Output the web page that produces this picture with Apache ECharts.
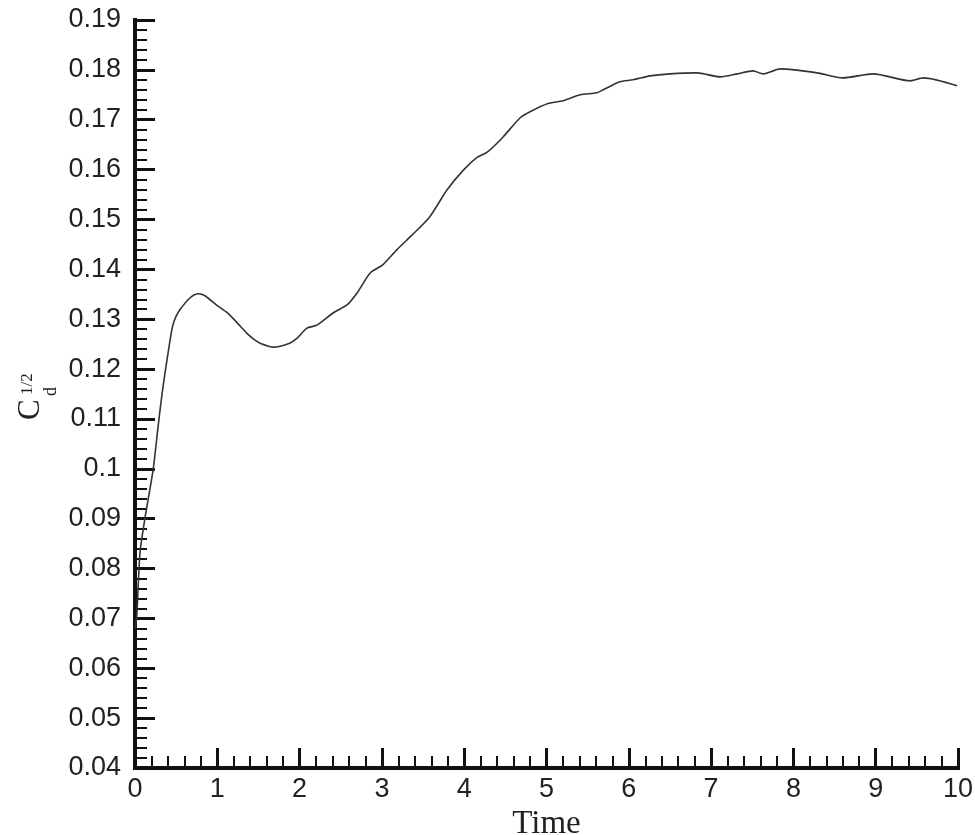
<!DOCTYPE html>
<html>
<head>
<meta charset="utf-8">
<title>Cd^(1/2) vs Time</title>
<script src="https://cdn.jsdelivr.net/npm/echarts@6/dist/echarts.min.js"></script>
<style>
  html, body { margin: 0; padding: 0; background: #fff; }
  #main { width: 975px; height: 835px; }
</style>
</head>
<body>
<div id="main"></div>
<script>
// values
var timeVals = [0.00, 0.02, 0.06, 0.12, 0.22, 0.28, 0.33, 0.37, 0.43, 0.46,
  0.50, 0.55, 0.67, 0.77, 0.85, 1.00, 1.12, 1.28, 1.37, 1.45, 1.52, 1.68,
  1.88, 1.97, 2.09, 2.21, 2.41, 2.58, 2.70, 2.86, 3.01, 3.18,
  3.38, 3.58, 3.79, 3.99, 4.16, 4.28, 4.47, 4.68, 4.80, 5.01,
  5.20, 5.41, 5.61, 5.69, 5.89, 6.05, 6.26, 6.50, 6.83, 7.11,
  7.32, 7.51, 7.63, 7.84, 8.29, 8.60, 8.97, 9.42, 9.58, 9.99];
var cdVals = [0.0680, 0.0700, 0.0830, 0.0900, 0.0998, 0.1084, 0.1152, 0.1198, 0.1262, 0.1288,
  0.1306, 0.1320, 0.1343, 0.1351, 0.1347, 0.1327, 0.1313, 0.1286, 0.1270, 0.1259, 0.1252, 0.1244,
  0.1252, 0.1262, 0.1282, 0.1288, 0.1313, 0.1329, 0.1353, 0.1393, 0.1409, 0.1439,
  0.1471, 0.1505, 0.1559, 0.1599, 0.1625, 0.1635, 0.1665, 0.1704, 0.1716, 0.1732,
  0.1738, 0.1750, 0.1754, 0.1760, 0.1776, 0.1780, 0.1788, 0.1792, 0.1794, 0.1786,
  0.1792, 0.1798, 0.1792, 0.1802, 0.1794, 0.1784, 0.1792, 0.1778, 0.1784, 0.1768];

var xTickLabels = ['0', '1', '2', '3', '4', '5', '6', '7', '8', '9', '10'];
var yTickLabels = ['0.04', '0.05', '0.06', '0.07', '0.08', '0.09', '0.1', '0.11',
  '0.12', '0.13', '0.14', '0.15', '0.16', '0.17', '0.18', '0.19'];

var axisColor = '#111';
var labelFont = 'Liberation Sans';
var titleFont = 'Liberation Serif';

var chart = echarts.init(document.getElementById('main'));

var points = timeVals.map(function (t, i) { return [t, cdVals[i]]; });

function axisStyle() {
  return {
    axisLine: { show: true, lineStyle: { color: axisColor, width: 4, cap: 'square' } },
    axisTick: { show: true, inside: true, length: 20, lineStyle: { color: axisColor, width: 3 } },
    minorTick: { show: true, splitNumber: 5, length: 12, lineStyle: { color: axisColor, width: 2 } },
    splitLine: { show: false },
    minorSplitLine: { show: false }
  };
}

var option = {
  animation: false,
  backgroundColor: '#fff',
  grid: { left: 135, right: 17, top: 20, bottom: 67, containLabel: false, outerBoundsMode: 'none' },
  xAxis: Object.assign({
    type: 'value',
    min: 0,
    max: 10,
    interval: 1,
    name: 'Time',
    nameLocation: 'middle',
    nameGap: 36,
    nameTextStyle: { fontFamily: titleFont, fontSize: 33, color: '#222' },
    axisLabel: {
      margin: 8,
      fontFamily: labelFont,
      fontSize: 27,
      color: '#222',
      formatter: function (v) { return xTickLabels[Math.round(v)]; }
    }
  }, axisStyle()),
  yAxis: Object.assign({
    type: 'value',
    min: 0.04,
    max: 0.19,
    interval: 0.01,
    axisLabel: {
      margin: 14,
      fontFamily: labelFont,
      fontSize: 27,
      color: '#222',
      formatter: function (v) { return yTickLabels[Math.round((v - 0.04) / 0.01)]; }
    }
  }, axisStyle()),
  // axis title C_d^(1/2), rotated
  graphic: [{
    type: 'group',
    x: 31,
    y: 420,
    rotation: Math.PI / 2,
    children: [
      { type: 'text', x: 0, y: 0,
        style: { text: 'C', fontFamily: titleFont, fontSize: 31, fill: '#222', align: 'left', verticalAlign: 'middle' } },
      { type: 'text', x: 24, y: 20,
        style: { text: 'd', fontFamily: titleFont, fontSize: 18, fill: '#222', align: 'left', verticalAlign: 'middle' } },
      { type: 'text', x: 25, y: -3,
        style: { text: '1/2', fontFamily: titleFont, fontSize: 17, fill: '#222', align: 'left', verticalAlign: 'middle' } }
    ]
  }],
  series: [{
    type: 'line',
    data: points,
    showSymbol: false,
    symbol: 'none',
    smooth: 0.25,
    lineStyle: { color: '#333', width: 1.6 }
  }]
};

chart.setOption(option);
</script>
</body>
</html>
